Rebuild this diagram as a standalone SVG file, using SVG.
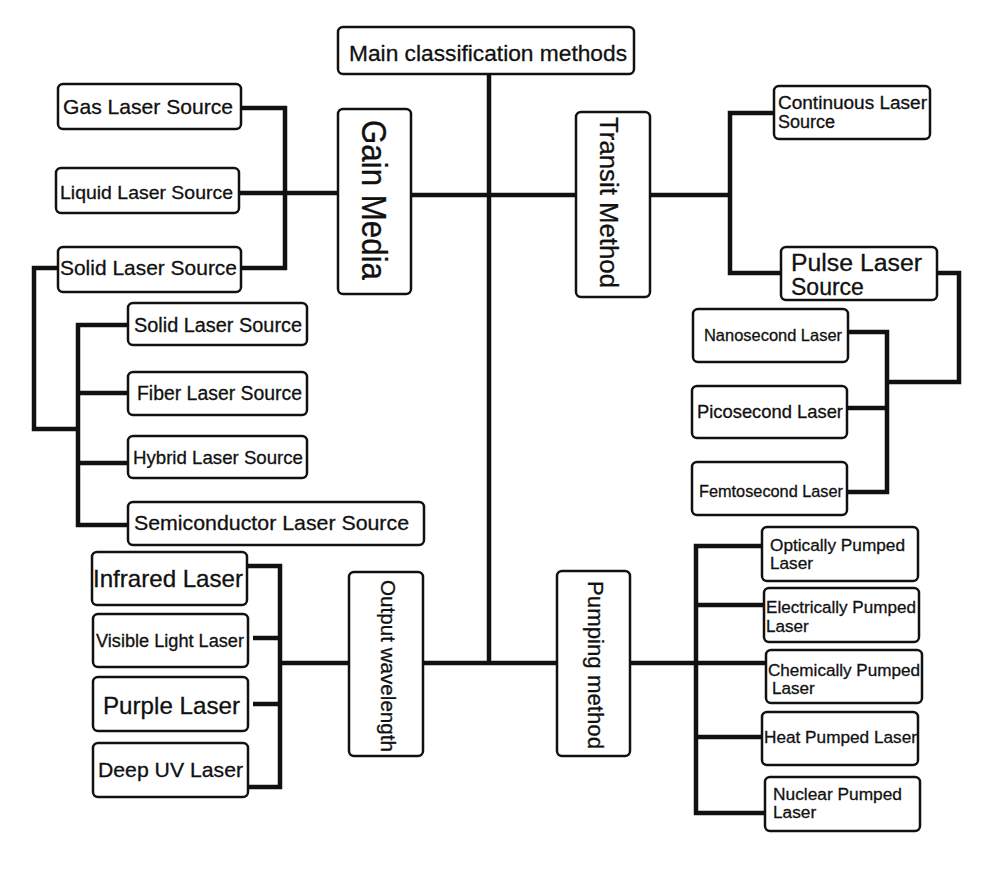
<svg xmlns="http://www.w3.org/2000/svg" width="1000" height="874" viewBox="0 0 1000 874">
<style>
.box{fill:#fff;stroke:#111;stroke-width:2.5}
.t{font-family:"Liberation Sans",Arial,sans-serif;fill:#111;stroke:#111;stroke-width:0.3}
.c{fill:none;stroke:#111;stroke-width:4.5;stroke-linejoin:miter}
</style>
<rect width="1000" height="874" fill="#fff"/>
<g id="connectors">
<path class="c" d="M489,74 V663"/>
<path class="c" d="M411,195 H576"/>
<path class="c" d="M423,663 H557"/>
<path class="c" d="M241,108 H285 V268 H241"/>
<path class="c" d="M239,193 H338"/>
<path class="c" d="M58,268 H34 V429 H78"/>
<path class="c" d="M128,325 H78 V525 H128"/>
<path class="c" d="M78,393 H128 M78,463 H128"/>
<path class="c" d="M650,195 H730"/>
<path class="c" d="M775,113 H730 V273 H781"/>
<path class="c" d="M937,273 H959 V382 H887"/>
<path class="c" d="M848,332 H887 V492 H847"/>
<path class="c" d="M847,408 H887"/>
<path class="c" d="M247,566 H280 V787 H249"/>
<path class="c" d="M253,638 H280 M253,704 H280 M280,663 H349"/>
<path class="c" d="M630,663 H766"/>
<path class="c" d="M762,546 H696 V813 H765"/>
<path class="c" d="M696,605 H764 M696,737 H762"/>
</g>
<g id="main"><rect class="box" x="338" y="27" width="296" height="47" rx="5"/><text class="t" x="349" y="61" font-size="22.5" textLength="278" lengthAdjust="spacingAndGlyphs">Main classification methods</text></g>
<g id="gain"><rect class="box" x="338" y="109" width="73" height="185" rx="5"/><text class="t" transform="translate(362,120) rotate(90)" font-size="35" textLength="160" lengthAdjust="spacingAndGlyphs">Gain Media</text></g>
<g id="transit"><rect class="box" x="576" y="112" width="74" height="185" rx="5"/><text class="t" transform="translate(600,117) rotate(90)" font-size="25" textLength="171" lengthAdjust="spacingAndGlyphs">Transit Method</text></g>
<g id="output"><rect class="box" x="349" y="572" width="74" height="184" rx="5"/><text class="t" transform="translate(381,580) rotate(90)" font-size="21" textLength="172" lengthAdjust="spacingAndGlyphs">Output wavelength</text></g>
<g id="pumping"><rect class="box" x="557" y="571" width="73" height="185" rx="5"/><text class="t" transform="translate(588,581) rotate(90)" font-size="22" textLength="168" lengthAdjust="spacingAndGlyphs">Pumping method</text></g>
<g id="gas"><rect class="box" x="58" y="84" width="183" height="45" rx="5"/><text class="t" x="63" y="114" font-size="21" textLength="170" lengthAdjust="spacingAndGlyphs">Gas Laser Source</text></g>
<g id="liquid"><rect class="box" x="56" y="168" width="183" height="45" rx="5"/><text class="t" x="60" y="199" font-size="19" textLength="173" lengthAdjust="spacingAndGlyphs">Liquid Laser Source</text></g>
<g id="solid"><rect class="box" x="58" y="247" width="183" height="45" rx="5"/><text class="t" x="60" y="275" font-size="21" textLength="177" lengthAdjust="spacingAndGlyphs">Solid Laser Source</text></g>
<g id="solid2"><rect class="box" x="128" y="303" width="179" height="42" rx="5"/><text class="t" x="134" y="332" font-size="20" textLength="168" lengthAdjust="spacingAndGlyphs">Solid Laser Source</text></g>
<g id="fiber"><rect class="box" x="128" y="372" width="179" height="43" rx="5"/><text class="t" x="137" y="400" font-size="19.5" textLength="165" lengthAdjust="spacingAndGlyphs">Fiber Laser Source</text></g>
<g id="hybrid"><rect class="box" x="128" y="436" width="179" height="42" rx="5"/><text class="t" x="133" y="464" font-size="19" textLength="170" lengthAdjust="spacingAndGlyphs">Hybrid Laser Source</text></g>
<g id="semi"><rect class="box" x="128" y="502" width="296" height="43" rx="5"/><text class="t" x="134" y="530" font-size="21" textLength="275" lengthAdjust="spacingAndGlyphs">Semiconductor Laser Source</text></g>
<g id="continuous"><rect class="box" x="774" y="86" width="156" height="53" rx="5"/><text class="t" font-size="18"><tspan x="778" y="109" textLength="149" lengthAdjust="spacingAndGlyphs">Continuous Laser</tspan><tspan x="778" y="128">Source</tspan></text></g>
<g id="pulse"><rect class="box" x="781" y="247" width="156" height="53" rx="5"/><text class="t" font-size="23"><tspan x="791" y="271" textLength="131" lengthAdjust="spacingAndGlyphs">Pulse Laser</tspan><tspan x="791" y="295">Source</tspan></text></g>
<g id="nano"><rect class="box" x="693" y="309" width="155" height="53" rx="5"/><text class="t" x="704" y="341" font-size="16.5" textLength="138" lengthAdjust="spacingAndGlyphs">Nanosecond Laser</text></g>
<g id="pico"><rect class="box" x="692" y="386" width="155" height="52" rx="5"/><text class="t" x="697" y="418" font-size="18.4" textLength="146" lengthAdjust="spacingAndGlyphs">Picosecond Laser</text></g>
<g id="femto"><rect class="box" x="692" y="462" width="155" height="53" rx="5"/><text class="t" x="699" y="497" font-size="16.3" textLength="144" lengthAdjust="spacingAndGlyphs">Femtosecond Laser</text></g>
<g id="infrared"><rect class="box" x="92" y="552" width="155" height="53" rx="5"/><text class="t" x="93" y="587" font-size="24" textLength="150" lengthAdjust="spacingAndGlyphs">Infrared Laser</text></g>
<g id="visible"><rect class="box" x="93" y="614" width="155" height="53" rx="5"/><text class="t" x="96" y="647" font-size="18" textLength="148" lengthAdjust="spacingAndGlyphs">Visible Light Laser</text></g>
<g id="purple"><rect class="box" x="93" y="677" width="155" height="54" rx="5"/><text class="t" x="103" y="714" font-size="24" textLength="137" lengthAdjust="spacingAndGlyphs">Purple Laser</text></g>
<g id="deepuv"><rect class="box" x="93" y="743" width="155" height="54" rx="5"/><text class="t" x="98" y="777" font-size="21" textLength="145" lengthAdjust="spacingAndGlyphs">Deep UV Laser</text></g>
<g id="optical"><rect class="box" x="762" y="527" width="156" height="54" rx="5"/><text class="t" font-size="17.2"><tspan x="770" y="551" textLength="135" lengthAdjust="spacingAndGlyphs">Optically Pumped</tspan><tspan x="770" y="569">Laser</tspan></text></g>
<g id="electrical"><rect class="box" x="764" y="588" width="155" height="54" rx="5"/><text class="t" font-size="17.1"><tspan x="766" y="613" textLength="150" lengthAdjust="spacingAndGlyphs">Electrically Pumped</tspan><tspan x="766" y="632">Laser</tspan></text></g>
<g id="chemical"><rect class="box" x="766" y="650" width="156" height="53" rx="5"/><text class="t" font-size="17.1"><tspan x="768" y="676" textLength="152" lengthAdjust="spacingAndGlyphs">Chemically Pumped</tspan><tspan x="772" y="694">Laser</tspan></text></g>
<g id="heat"><rect class="box" x="762" y="712" width="156" height="53" rx="5"/><text class="t" x="764" y="743" font-size="17.2" textLength="153" lengthAdjust="spacingAndGlyphs">Heat Pumped Laser</text></g>
<g id="nuclear"><rect class="box" x="765" y="777" width="155" height="54" rx="5"/><text class="t" font-size="17.3"><tspan x="773" y="800" textLength="129" lengthAdjust="spacingAndGlyphs">Nuclear Pumped</tspan><tspan x="773" y="818">Laser</tspan></text></g>
</svg>
